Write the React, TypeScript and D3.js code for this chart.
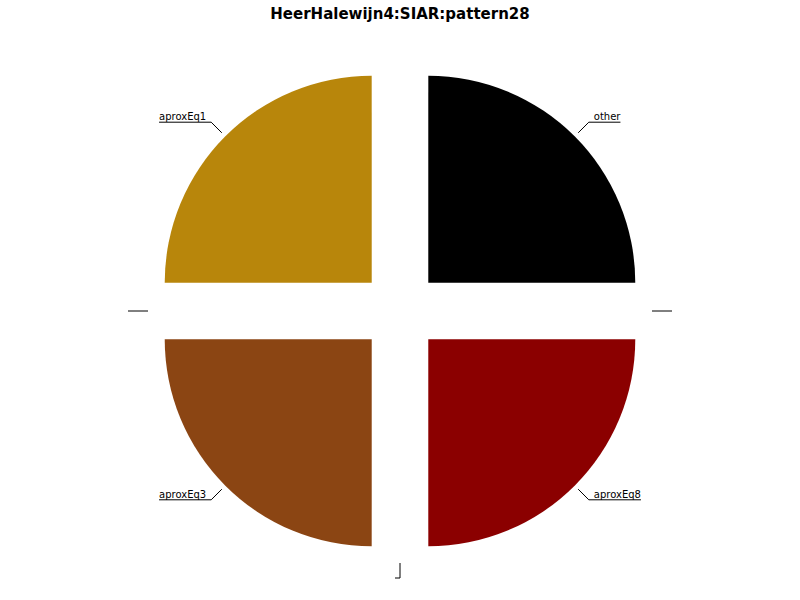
import React, { useEffect, useRef } from "react";
import * as d3 from "d3";

// slices clockwise from 12 o'clock; empty names are zero-size slices
const names = ["other", "", "aproxEq8", "", "aproxEq3", "", "aproxEq1"];
const values = [1, 0, 1, 0, 1, 0, 1];
const colors = ["#000000", "#ffffff", "#8B0000", "#ffffff", "#8B4513", "#ffffff", "#B8860B"];
const title = "HeerHalewijn4:SIAR:pattern28";

const App = () => {
  const svgRef = useRef<SVGSVGElement>(null);

  useEffect(() => {
    const w = 800;
    const h = 600;
    const cx = 400;
    const cy = 311;
    const r = 207;
    const explode = 40;

    const svg = d3.select(svgRef.current)
      .attr("width", w)
      .attr("height", h)
      .style("position", "absolute")
      .style("left", "0px")
      .style("top", "0px")
      .style("background", "#ffffff")
      .style("font-family", "'DejaVu Sans', sans-serif");
    svg.selectAll("*").remove();

    svg.append("text")
      .attr("x", w / 2)
      .attr("y", 19)
      .attr("text-anchor", "middle")
      .style("font-size", "15px")
      .style("font-weight", "bold")
      .text(title);

    const data = names.map((n, i) => ({ name: n, value: values[i], color: colors[i] }));
    const pie = d3.pie<any>().sort(null).value((d) => d.value).startAngle(0).endAngle(2 * Math.PI);
    const arc = d3.arc<any>().innerRadius(0).outerRadius(r);
    const arcs = pie(data);

    const g = svg.append("g").attr("transform", `translate(${cx},${cy})`);

    arcs.forEach((a) => {
      const mid = (a.startAngle + a.endAngle) / 2;
      const ox = explode * Math.sin(mid);
      const oy = -explode * Math.cos(mid);
      const sg = g.append("g").attr("transform", `translate(${ox},${oy})`);

      if (a.value > 0) {
        sg.append("path").attr("d", arc(a) as string).attr("fill", a.data.color);
      }

      // leader line + underlined label
      const x1 = (r + 5) * Math.sin(mid);
      const y1 = -(r + 5) * Math.cos(mid);
      const x2 = (r + 20) * Math.sin(mid);
      const y2 = -(r + 20) * Math.cos(mid);
      const right = Math.sin(mid) > 1e-6;

      const t = sg.append("text")
        .attr("x", right ? x2 + 5 : x2 - 5)
        .attr("y", y2 - 2)
        .attr("text-anchor", right ? "start" : "end")
        .style("font-size", "10px")
        .text(a.data.name);
      const tw = a.data.name ? (t.node() as SVGTextElement).getComputedTextLength() : 0;
      const x3 = right ? x2 + 5 + tw : x2 - 5 - tw;

      sg.append("path")
        .attr("d", `M${x1},${y1}L${x2},${y2}L${x3},${y2}`)
        .attr("fill", "none")
        .attr("stroke", "#000")
        .attr("stroke-width", 1);
    });
  }, []);

  return <svg ref={svgRef}></svg>;
};

export default App;
